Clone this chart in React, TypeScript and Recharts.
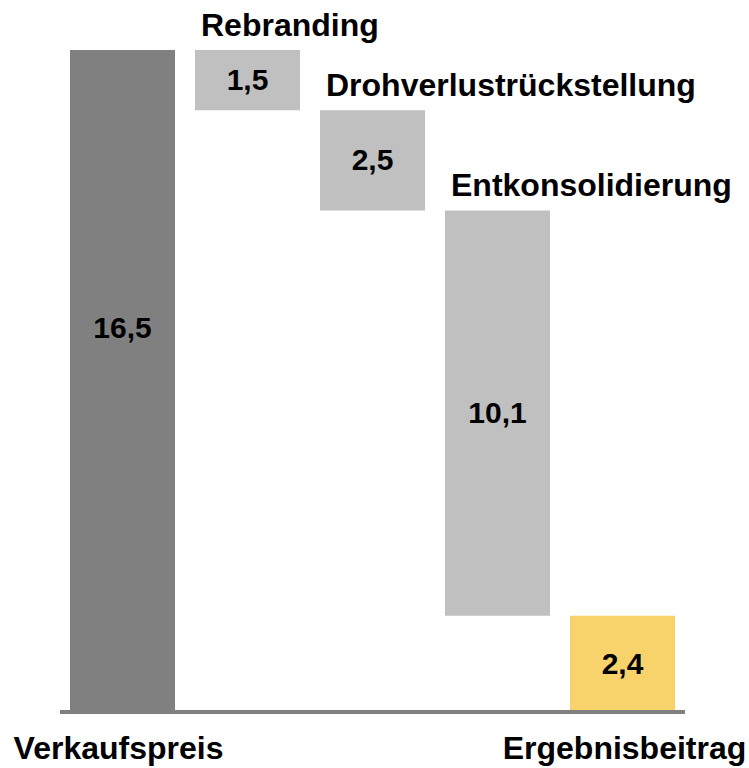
import React from "react";
import { BarChart, Bar, XAxis, YAxis, Cell, LabelList } from "recharts";

const categories = [
  "Verkaufspreis",
  "Rebranding",
  "Drohverlustrückstellung",
  "Entkonsolidierung",
  "Ergebnisbeitrag",
];
const values = [16.5, 1.5, 2.5, 10.1, 2.4];
const valueLabels = ["16,5", "1,5", "2,5", "10,1", "2,4"];

const barColors = ["#808080", "#c0c0c0", "#c0c0c0", "#c0c0c0", "#f8d36b"];
const FONT = "'Liberation Sans', Arial, sans-serif";

// waterfall: the middle bars hang from the running total
let running = values[0];
const data = categories.map((name, i) => {
  let base = 0;
  if (i > 0 && i < categories.length - 1) {
    running -= values[i];
    base = running;
  }
  return { name, base, value: values[i], label: valueLabels[i] };
});

const BottomTick = (props: any) => {
  const { x, y, payload, index } = props;
  if (index !== 0 && index !== categories.length - 1) return null;
  return (
    <text
      x={index === 0 ? x - 4 : x + 2}
      y={y + 47}
      textAnchor="middle"
      fontFamily={FONT}
      fontWeight="bold"
      fontSize={32}
      fill="#000"
    >
      {payload.value}
    </text>
  );
};

const ValueLabel = (props: any) => {
  const { x, y, width, height, index } = props;
  // the first bar's label sits above the middle of the bar
  const cy = index === 0 ? y + height * 0.42 : y + height / 2;
  return (
    <text
      x={x + width / 2}
      y={cy}
      dy={10}
      textAnchor="middle"
      fontFamily={FONT}
      fontWeight="bold"
      fontSize={30}
      fill="#000"
    >
      {data[index].label}
    </text>
  );
};

const NameLabel = (props: any) => {
  const { x, y, index } = props;
  if (index === 0 || index === categories.length - 1) return null;
  return (
    <text
      x={x + 6}
      y={y - 14}
      fontFamily={FONT}
      fontWeight="bold"
      fontSize={32}
      fill="#000"
    >
      {data[index].name}
    </text>
  );
};

export default function App() {
  return (
    <div style={{ position: "absolute", left: 0, top: 0, background: "#fff" }}>
      <BarChart
        width={749}
        height={768}
        data={data}
        margin={{ top: 50, right: 64, left: 60, bottom: 0 }}
      >
        <XAxis
          dataKey="name"
          height={56}
          tickLine={false}
          tickSize={0}
          tickMargin={0}
          axisLine={{ stroke: "#808080", strokeWidth: 4 }}
          tick={<BottomTick />}
          interval={0}
        />
        <YAxis hide domain={[0, values[0]]} />
        <Bar
          dataKey="base"
          stackId="w"
          fill="transparent"
          barSize={105}
          isAnimationActive={false}
        />
        <Bar dataKey="value" stackId="w" barSize={105} isAnimationActive={false}>
          {data.map((d, i) => (
            <Cell key={d.name} fill={barColors[i]} />
          ))}
          <LabelList dataKey="label" content={<ValueLabel />} />
          <LabelList dataKey="name" content={<NameLabel />} />
        </Bar>
      </BarChart>
    </div>
  );
}
